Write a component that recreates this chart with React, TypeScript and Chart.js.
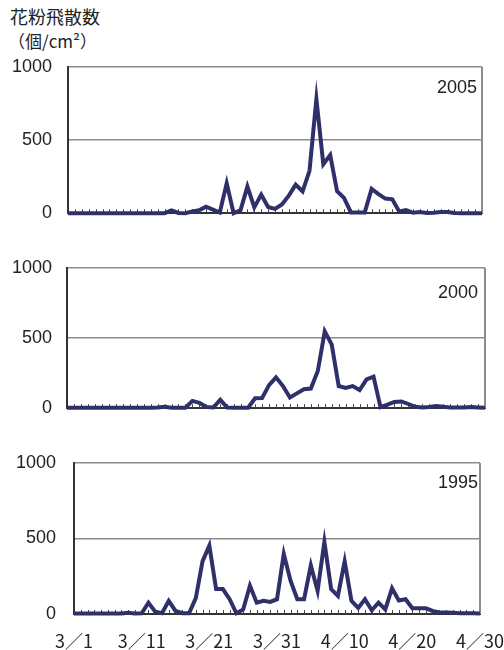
import React, { useEffect, useRef } from 'react';
import { Chart, registerables } from 'chart.js';

Chart.register(...registerables);

// Categories: every day from 3/1 to 4/30
const months = [
  { m: 3, n: 31 },
  { m: 4, n: 30 },
];
const dayLabels: string[] = [];
for (const { m, n } of months) for (let d = 1; d <= n; d++) dayLabels.push(`${m}／${d}`);

const xTickEvery = 10; // labelled ticks: 3/1, 3/11, 3/21, 3/31, 4/10, 4/20, 4/30
const yMin = 0;
const yMax = 1000;
const yStep = 500;

const pollen2005 = [
  0, 0, 0, 0, 0, 0, 0, 0, 0, 0,
  0, 0, 0, 0, 0, 19, 2, 0, 12, 20,
  45, 25, 5, 205, 0, 20, 182, 40, 127, 42,
  30, 60, 120, 195, 150, 290, 780, 335, 398, 150,
  105, 5, 5, 5, 166, 130, 100, 95, 12, 22,
  3, 8, 2, 3, 8, 8, 2, 0, 0, 0,
  0,
];
const pollen2000 = [
  3, 3, 3, 3, 3, 3, 3, 3, 3, 3,
  3, 3, 3, 5, 10, 3, 3, 3, 52, 38,
  8, 5, 60, 5, 3, 3, 3, 71, 72, 165,
  220, 158, 76, 106, 135, 140, 265, 548, 454, 158,
  144, 158, 130, 206, 225, 8, 25, 45, 48, 30,
  10, 5, 8, 15, 10, 5, 5, 5, 8, 5,
  3,
];
const pollen1995 = [
  3, 3, 3, 3, 3, 3, 3, 3, 8, 3,
  5, 75, 15, 5, 87, 20, 5, 5, 105, 350,
  453, 165, 165, 98, 5, 30, 187, 75, 88, 80,
  98, 398, 220, 98, 98, 322, 153, 478, 165, 120,
  349, 87, 40, 98, 25, 75, 30, 171, 90, 98,
  38, 38, 38, 20, 10, 10, 8, 5, 5, 5,
  3,
];

const LINE_COLOR = '#2f2f6a';
const GRID_COLOR = '#8c8c8c';
const AXIS_COLOR = '#333333';
const TEXT_COLOR = '#222222';
const NUM_FONT = "'Liberation Sans', Arial, sans-serif";
const X_FONT = "'Liberation Sans Narrow', 'Noto Sans CJK JP', sans-serif";

type Panel = {
  year: string;
  data: number[];
  top: number;
  height: number;
  left: number;
  topGap: number;
  rightGap: number;
  bottomGap: number;
  showX: boolean;
  labelPad: number;
  yearBaseline: number;
  yearInset: number;
};

const panels: Panel[] = [
  { year: '2005', data: pollen2005, top: 50, height: 175, left: 68, topGap: 17, rightGap: 22, bottomGap: 10, showX: false, labelPad: 16, yearBaseline: 26, yearInset: 5 },
  { year: '2000', data: pollen2000, top: 250, height: 170, left: 67, topGap: 18, rightGap: 19, bottomGap: 10, showX: false, labelPad: 15, yearBaseline: 30, yearInset: 7 },
  { year: '1995', data: pollen1995, top: 445, height: 205, left: 74, topGap: 18, rightGap: 20, bottomGap: 36, showX: true, labelPad: 18, yearBaseline: 25, yearInset: 2 },
];

function PanelChart({ p }: { p: Panel }) {
  const ref = useRef<HTMLCanvasElement | null>(null);
  useEffect(() => {
    if (!ref.current) return;
    const frame = {
      id: 'frame',
      beforeDatasetsDraw(chart: any) {
        const { ctx, chartArea } = chart;
        const xs = chart.scales.x;
        ctx.save();
        ctx.strokeStyle = '#444';
        ctx.lineWidth = 1;
        for (let i = 1; i < dayLabels.length; i++) {
          const x = Math.round(xs.getPixelForValue(i)) + 0.5;
          ctx.beginPath();
          ctx.moveTo(x, chartArea.bottom);
          ctx.lineTo(x, chartArea.bottom - 4);
          ctx.stroke();
        }
        ctx.strokeStyle = GRID_COLOR;
        ctx.lineWidth = 2;
        ctx.beginPath();
        ctx.moveTo(chartArea.right, chartArea.top);
        ctx.lineTo(chartArea.right, chartArea.bottom);
        ctx.stroke();
        ctx.restore();
      },
      afterDraw(chart: any) {
        const { ctx, chartArea } = chart;
        ctx.save();
        ctx.fillStyle = TEXT_COLOR;
        ctx.font = `18px ${NUM_FONT}`;
        ctx.textAlign = 'right';
        ctx.textBaseline = 'alphabetic';
        ctx.fillText(p.year, chartArea.right - p.yearInset, chartArea.top + p.yearBaseline);
        ctx.restore();
      },
    };
    const hidden = {
      display: true,
      grid: { display: false, drawTicks: false },
      border: { display: false },
      ticks: { display: false, padding: 0 },
    };
    const chart = new Chart(ref.current, {
      type: 'line',
      data: {
        labels: dayLabels,
        datasets: [
          {
            data: p.data,
            borderColor: LINE_COLOR,
            borderWidth: 4,
            pointRadius: 0,
            tension: 0,
            fill: false,
            clip: false as any,
            xAxisID: 'x',
            yAxisID: 'y',
          },
        ],
      },
      options: {
        animation: false,
        responsive: false,
        maintainAspectRatio: false,
        layout: { padding: 0 },
        plugins: { legend: { display: false }, tooltip: { enabled: false } },
        scales: {
          x: {
            type: 'category',
            position: 'bottom',
            offset: false,
            grid: {
              display: true,
              drawOnChartArea: false,
              drawTicks: true,
              tickLength: 16,
              tickColor: 'rgba(0,0,0,0)',
              color: 'rgba(0,0,0,0)',
            },
            border: { display: true, color: AXIS_COLOR, width: 2 },
            ticks: {
              display: p.showX,
              autoSkip: false,
              maxRotation: 0,
              minRotation: 0,
              padding: 0,
              color: TEXT_COLOR,
              font: { family: X_FONT, size: 18 },
              callback: (_v: any, i: number) => (i % xTickEvery === 0 ? dayLabels[i] : ''),
            },
            afterFit: (s: any) => {
              s.height = p.bottomGap;
            },
          },
          xTop: {
            type: 'category',
            position: 'top',
            ...hidden,
            afterFit: (s: any) => {
              s.height = p.topGap;
            },
          },
          y: {
            position: 'left',
            min: yMin,
            max: yMax,
            ticks: {
              stepSize: yStep,
              padding: 1,
              color: TEXT_COLOR,
              font: { family: NUM_FONT, size: 18 },
              callback: (v: any) => String(v),
            },
            grid: {
              drawTicks: true,
              tickLength: p.labelPad - 1,
              tickColor: 'rgba(0,0,0,0)',
              lineWidth: 1.5,
              color: (c: any) => (c.tick && c.tick.value === 0 ? 'rgba(0,0,0,0)' : GRID_COLOR),
            },
            border: { display: true, color: AXIS_COLOR, width: 2 },
            afterFit: (s: any) => {
              s.width = p.left;
            },
          },
          yRight: {
            type: 'linear',
            position: 'right',
            min: yMin,
            max: yMax,
            ...hidden,
            afterFit: (s: any) => {
              s.width = p.rightGap;
            },
          },
        },
      },
      plugins: [frame],
    } as any);
    return () => chart.destroy();
  }, [p]);
  return (
    <canvas
      ref={ref}
      width={504}
      height={p.height}
      style={{ position: 'absolute', left: 0, top: p.top, width: 504, height: p.height }}
    />
  );
}

export default function App() {
  return (
    <div style={{ position: 'fixed', left: 0, top: 0, width: 504, height: 650, background: '#fff', overflow: 'hidden' }}>
      <div
        style={{
          position: 'absolute',
          left: 10,
          top: 5,
          fontFamily: "'Noto Sans CJK JP', sans-serif",
          fontSize: 18,
          lineHeight: '22px',
          color: TEXT_COLOR,
          whiteSpace: 'nowrap',
        }}
      >
        花粉飛散数
      </div>
      <div
        style={{
          position: 'absolute',
          left: 8,
          top: 30,
          fontFamily: "'Noto Sans CJK JP', sans-serif",
          fontSize: 17,
          lineHeight: '22px',
          color: TEXT_COLOR,
          whiteSpace: 'nowrap',
        }}
      >
        （個/cm²）
      </div>
      {panels.map((p) => (
        <PanelChart key={p.year} p={p} />
      ))}
    </div>
  );
}
